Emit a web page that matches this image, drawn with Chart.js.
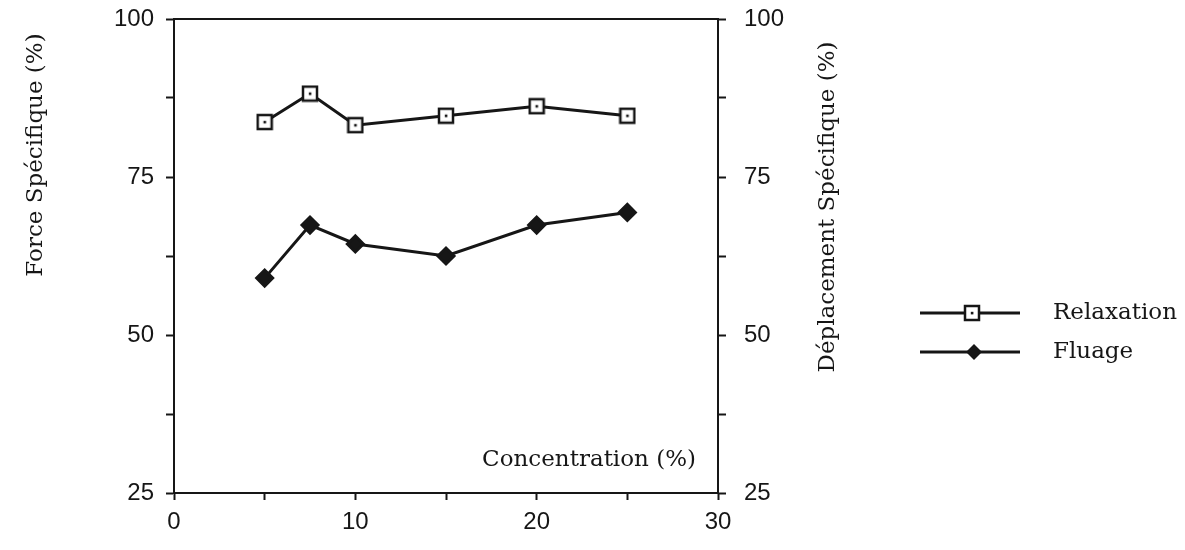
<!DOCTYPE html>
<html>
<head>
<meta charset="utf-8">
<script src="https://cdn.jsdelivr.net/npm/chart.js@4"></script>
<style>
  html, body { margin: 0; padding: 0; background: #fff; }
  #wrap { width: 1185px; height: 550px; position: relative; }
</style>
</head>
<body>
<div id="wrap"><canvas id="graf" width="1185" height="550"></canvas></div>
<script>
// concentrations (%)
const concentrations = [5, 7.5, 10, 15, 20, 25];
// series values
const relaxation = [83.7, 88.2, 83.2, 84.7, 86.2, 84.7];
const fluage = [59.0, 67.4, 64.4, 62.5, 67.4, 69.4];
// tick labels
const yLabels = [25, 50, 75, 100];
const xLabels = [0, 10, 20, 30];

const serieNames = ['Relaxation', 'Fluage'];
const ink = '#161616';
const serif = '23px "DejaVu Serif", "Liberation Serif", serif';

// square marker with a dot in the middle
function carre() {
    const c = document.createElement('canvas');
    c.width = 18; c.height = 18;
    const g = c.getContext('2d');
    g.fillStyle = '#fff';
    g.fillRect(1, 1, 16, 16);
    g.strokeStyle = ink;
    g.lineWidth = 2.5;
    g.strokeRect(2, 2, 14, 14);
    g.fillStyle = ink;
    g.fillRect(7.8, 7.8, 2.6, 2.6);
    return c;
}
const marqueCarre = carre();

function toPts(xs, ys) {
    return xs.map((x, i) => ({ x: x, y: ys[i] }));
}

const textes = {
    id: 'textes',
    afterDraw(chart) {
        const ctx = chart.ctx;
        const a = chart.chartArea;
        ctx.save();
        // top frame line
        ctx.strokeStyle = ink;
        ctx.lineWidth = 2;
        ctx.beginPath();
        ctx.moveTo(a.left, a.top);
        ctx.lineTo(a.right, a.top);
        ctx.stroke();

        ctx.fillStyle = ink;
        ctx.font = serif;
        ctx.textBaseline = 'middle';

        // axis titles
        ctx.save();
        ctx.translate(36, 155);
        ctx.rotate(-Math.PI / 2);
        ctx.textAlign = 'center';
        ctx.fillText('Force Spécifique (%)', 0, 0);
        ctx.restore();

        ctx.save();
        ctx.translate(828, 207);
        ctx.rotate(-Math.PI / 2);
        ctx.textAlign = 'center';
        ctx.fillText('Déplacement Spécifique (%)', 0, 0);
        ctx.restore();

        ctx.textAlign = 'right';
        ctx.fillText('Concentration (%)', a.right - 22, a.bottom - 33);

        // legend
        ctx.textAlign = 'left';
        const leg = [[313, 'r'], [352, 'f']];
        leg.forEach((l, i) => {
            const y = l[0];
            ctx.lineWidth = 3;
            ctx.beginPath();
            ctx.moveTo(920, y);
            ctx.lineTo(1020, y);
            ctx.stroke();
            if (l[1] === 'r') {
                ctx.drawImage(marqueCarre, 963, y - 9);
            } else {
                ctx.beginPath();
                ctx.moveTo(974, y - 8);
                ctx.lineTo(982, y);
                ctx.lineTo(974, y + 8);
                ctx.lineTo(966, y);
                ctx.closePath();
                ctx.fill();
            }
            ctx.fillText(serieNames[i], 1053, y);
        });
        ctx.restore();
    }
};

const tickFont = { family: '"Liberation Sans", Arial, sans-serif', size: 24 };

function ajusteY(width) {
    return s => {
        s.width = width;
        s.paddingTop = 0;
        s.paddingBottom = 0;
    };
}

const graph = document.getElementById('graf');
const myChart = new Chart(graph, {
    type: 'line',
    data: {
        datasets: [{
            label: serieNames[0],
            data: toPts(concentrations, relaxation),
            borderColor: ink,
            borderWidth: 3,
            pointStyle: marqueCarre,
            pointRadius: 9,
            fill: false,
            tension: 0,
            yAxisID: 'y'
        }, {
            label: serieNames[1],
            data: toPts(concentrations, fluage),
            borderColor: ink,
            backgroundColor: ink,
            borderWidth: 3,
            pointStyle: 'rectRot',
            pointRadius: 8,
            fill: false,
            tension: 0,
            yAxisID: 'y'
        }]
    },
    options: {
        responsive: false,
        animation: false,
        layout: { padding: { top: 19, left: 0, right: 0, bottom: 0 } },
        plugins: { legend: { display: false }, tooltip: { enabled: false } },
        scales: {
            x: {
                type: 'linear',
                min: 0, max: 30,
                afterFit: s => { s.height = 57; },
                ticks: {
                    stepSize: 5,
                    color: ink,
                    font: tickFont,
                    padding: 8,
                    maxRotation: 0,
                    callback: v => xLabels.includes(v) ? String(v) : ''
                },
                grid: { drawOnChartArea: false, tickLength: 7, tickWidth: 2, color: ink },
                border: { color: ink, width: 2 }
            },
            y: {
                position: 'left',
                min: 25, max: 100,
                afterFit: ajusteY(174),
                ticks: {
                    stepSize: 12.5,
                    color: ink,
                    font: tickFont,
                    padding: 12,
                    callback: v => yLabels.includes(v) ? String(v) : ''
                },
                grid: { drawOnChartArea: false, tickLength: 8, tickWidth: 2, color: ink },
                border: { color: ink, width: 2 }
            },
            y2: {
                position: 'right',
                min: 25, max: 100,
                afterFit: ajusteY(467),
                ticks: {
                    stepSize: 12.5,
                    color: ink,
                    font: tickFont,
                    padding: 18,
                    callback: v => yLabels.includes(v) ? String(v) : ''
                },
                grid: { drawOnChartArea: false, tickLength: 8, tickWidth: 2, color: ink },
                border: { color: ink, width: 2 }
            }
        }
    },
    plugins: [textes]
});
</script>
</body>
</html>
